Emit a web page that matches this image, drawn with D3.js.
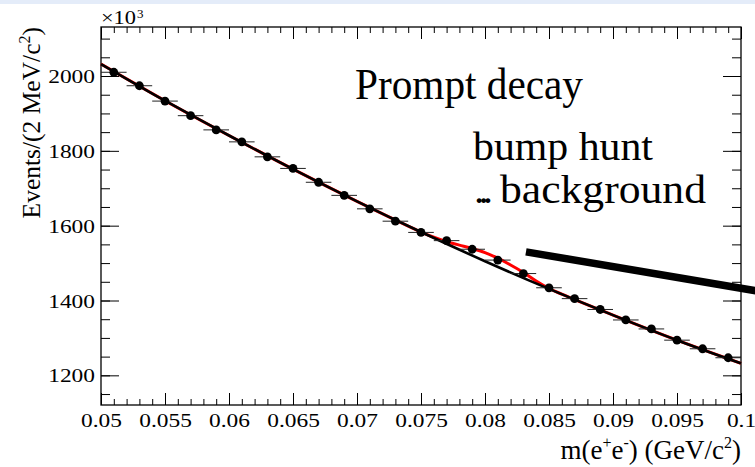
<!DOCTYPE html>
<html>
<head>
<meta charset="utf-8">
<script src="https://cdn.jsdelivr.net/npm/d3@7"></script>
<style>
  html, body { margin: 0; padding: 0; background: #fff; }
  svg { display: block; }
  text { font-family: "Liberation Serif", "DejaVu Serif", serif; fill: #000; }
</style>
</head>
<body>
<svg id="chart" width="755" height="467"></svg>
<script>
// Bin centres (GeV/c^2) and event counts (x10^3) per 2 MeV bin
const massBins = [0.051, 0.053, 0.055, 0.057, 0.059, 0.061, 0.063, 0.065, 0.067, 0.069,
                  0.071, 0.073, 0.075, 0.077, 0.079, 0.081, 0.083, 0.085, 0.087, 0.089,
                  0.091, 0.093, 0.095, 0.097, 0.099];
const counts = [2010, 1974, 1933, 1894, 1856, 1824, 1784, 1753, 1716, 1681,
                1645, 1612, 1582, 1560, 1537, 1508, 1472, 1434, 1405, 1376,
                1348, 1324, 1294, 1271, 1247];
const binHalfWidth = 0.001;

// Background-only fit, sampled along the mass range
const bkgX = [0.05, 0.055, 0.06, 0.065, 0.07, 0.075, 0.08, 0.085, 0.09, 0.095, 0.1];
const bkgY = [2032, 1934, 1841, 1751, 1665, 1583, 1505, 1431, 1361, 1294, 1232];

// Signal + background fit, with the bump near 0.08
const sbX = [0.05, 0.055, 0.06, 0.065, 0.07, 0.074, 0.075, 0.076, 0.077, 0.078, 0.079,
             0.080, 0.081, 0.082, 0.083, 0.084, 0.085, 0.086, 0.09, 0.095, 0.1];
const sbY = [2032, 1934, 1841, 1751, 1665, 1599, 1583, 1569, 1557, 1548, 1539,
             1528, 1513, 1495, 1475, 1452, 1432, 1417, 1361, 1294, 1232];

// Annotation stroke (data units)
const pointerX = [0.0832, 0.1015];
const pointerY = [1530, 1424];

const yMajorTicks = [1200, 1400, 1600, 1800, 2000];
const xMajorTicks = [0.05, 0.055, 0.06, 0.065, 0.07, 0.075, 0.08, 0.085, 0.09, 0.095, 0.1];
const xTickLabels = ["0.05", "0.055", "0.06", "0.065", "0.07", "0.075", "0.08", "0.085", "0.09", "0.095", "0.1"];

const svg = d3.select("#chart");
const W = 755, H = 467;
const frame = { left: 101, right: 741, top: 27, bottom: 405 };

// thin header band
svg.append("rect").attr("x", 0).attr("y", 0).attr("width", W).attr("height", 4)
  .attr("fill", "#e4ecf9");

const x = d3.scaleLinear().domain([0.05, 0.1]).range([frame.left, frame.right]);
const y = d3.scaleLinear().domain([1120.7, 2131]).range([frame.bottom, frame.top]);

// widen text horizontally by a factor
function stretch(sel, f) {
  sel.each(function () {
    const w = this.getComputedTextLength();
    this.setAttribute("textLength", w * f);
    this.setAttribute("lengthAdjust", "spacingAndGlyphs");
  });
}

// ---- axes ----
const xMinor = d3.range(0.05, 0.10001, 0.001).map(v => +v.toFixed(3));
const yMinor = d3.range(1150, 2131, 50);

function styleAxis(g) {
  g.select(".domain").remove();
  g.selectAll(".tick line").attr("stroke", "#000").attr("stroke-width", 1);
}

// bottom
const gxMinor = svg.append("g").attr("transform", `translate(0,${frame.bottom})`)
  .call(d3.axisBottom(x).tickValues(xMinor).tickSize(-6).tickFormat(""));
styleAxis(gxMinor);
const gx = svg.append("g").attr("transform", `translate(0,${frame.bottom})`)
  .call(d3.axisBottom(x).tickValues(xMajorTicks).tickSize(-12)
    .tickFormat((d, i) => xTickLabels[i]));
styleAxis(gx);
gx.selectAll(".tick text").attr("y", 21.5).attr("dy", 0).attr("font-size", 19.5)
  .attr("font-family", "Liberation Serif").attr("fill", "#000");
stretch(gx.selectAll(".tick text"), 1.2);

// top
const gtMinor = svg.append("g").attr("transform", `translate(0,${frame.top})`)
  .call(d3.axisTop(x).tickValues(xMinor).tickSize(-6).tickFormat(""));
styleAxis(gtMinor);
const gt = svg.append("g").attr("transform", `translate(0,${frame.top})`)
  .call(d3.axisTop(x).tickValues(xMajorTicks).tickSize(-12).tickFormat(""));
styleAxis(gt);

// left
const gyMinor = svg.append("g").attr("transform", `translate(${frame.left},0)`)
  .call(d3.axisLeft(y).tickValues(yMinor).tickSize(-9).tickFormat(""));
styleAxis(gyMinor);
const gy = svg.append("g").attr("transform", `translate(${frame.left},0)`)
  .call(d3.axisLeft(y).tickValues(yMajorTicks).tickSize(-18).tickFormat(d3.format("d")));
styleAxis(gy);
gy.selectAll(".tick text").attr("x", -6).attr("dy", "0.34em").attr("font-size", 19.5)
  .attr("font-family", "Liberation Serif").attr("fill", "#000");
stretch(gy.selectAll(".tick text"), 1.2);

// right
const grMinor = svg.append("g").attr("transform", `translate(${frame.right},0)`)
  .call(d3.axisRight(y).tickValues(yMinor).tickSize(-9).tickFormat(""));
styleAxis(grMinor);
const gr = svg.append("g").attr("transform", `translate(${frame.right},0)`)
  .call(d3.axisRight(y).tickValues(yMajorTicks).tickSize(-18).tickFormat(""));
styleAxis(gr);

// frame
svg.append("rect")
  .attr("x", frame.left).attr("y", frame.top)
  .attr("width", frame.right - frame.left).attr("height", frame.bottom - frame.top)
  .attr("fill", "none").attr("stroke", "#000").attr("stroke-width", 1.3);

// ---- plot contents ----
const plot = svg.append("g");

const line = d3.line().curve(d3.curveMonotoneX);

plot.append("path")
  .attr("d", line(sbX.map((v, i) => [x(v), y(sbY[i])])))
  .attr("fill", "none").attr("stroke", "#ff0000").attr("stroke-width", 3);

plot.append("path")
  .attr("d", line(bkgX.map((v, i) => [x(v), y(bkgY[i])])))
  .attr("fill", "none").attr("stroke", "#000").attr("stroke-width", 2.6);

// horizontal bin-width bars
plot.selectAll(".xerr").data(massBins).join("line")
  .attr("x1", d => x(d - binHalfWidth)).attr("x2", d => x(d + binHalfWidth))
  .attr("y1", (d, i) => y(counts[i])).attr("y2", (d, i) => y(counts[i]))
  .attr("stroke", "#222").attr("stroke-width", 1);

plot.selectAll(".pt").data(massBins).join("circle")
  .attr("cx", d => x(d)).attr("cy", (d, i) => y(counts[i]))
  .attr("r", 4.4).attr("fill", "#000");

// ---- text ----
svg.append("text").attr("x", 101).attr("y", 24).attr("font-size", 18)
  .attr("textLength", 35).attr("lengthAdjust", "spacingAndGlyphs").text("×10");
svg.append("text").attr("x", 137).attr("y", 18).attr("font-size", 13).text("3");

const ylab = svg.append("text")
  .attr("transform", `translate(39.5,${frame.top}) rotate(-90)`)
  .attr("text-anchor", "end").attr("font-size", 25.5);
ylab.append("tspan").text("Events/(2 MeV/c");
ylab.append("tspan").attr("font-size", 16).attr("dy", -10).text("2");
ylab.append("tspan").attr("dy", 10).text(")");

const xlab = svg.append("text")
  .attr("x", frame.right).attr("y", 459)
  .attr("text-anchor", "end").attr("font-size", 27);
xlab.append("tspan").text("m(e");
xlab.append("tspan").attr("font-size", 16).attr("dy", -11).text("+");
xlab.append("tspan").attr("dy", 11).text("e");
xlab.append("tspan").attr("font-size", 16).attr("dy", -11).text("-");
xlab.append("tspan").attr("dy", 11).text(") (GeV/c");
xlab.append("tspan").attr("font-size", 16).attr("dy", -11).text("2");
xlab.append("tspan").attr("dy", 11).text(")");

svg.append("text").attr("x", 355).attr("y", 99).attr("font-size", 45)
  .attr("textLength", 228).attr("lengthAdjust", "spacingAndGlyphs").text("Prompt decay");

svg.append("text").attr("x", 473).attr("y", 160).attr("font-size", 41)
  .attr("textLength", 180).attr("lengthAdjust", "spacingAndGlyphs").text("bump hunt");
svg.append("text").attr("x", 474).attr("y", 202.5).attr("font-size", 41)
  .attr("textLength", 19).attr("lengthAdjust", "spacing").text("...");
svg.append("text").attr("x", 500).attr("y", 202.5).attr("font-size", 41)
  .attr("textLength", 206).attr("lengthAdjust", "spacingAndGlyphs").text("background");

// pointer stroke
svg.append("line")
  .attr("x1", x(pointerX[0])).attr("y1", y(pointerY[0]))
  .attr("x2", x(pointerX[1])).attr("y2", y(pointerY[1]))
  .attr("stroke", "#000").attr("stroke-width", 7.5);
</script>
</body>
</html>
